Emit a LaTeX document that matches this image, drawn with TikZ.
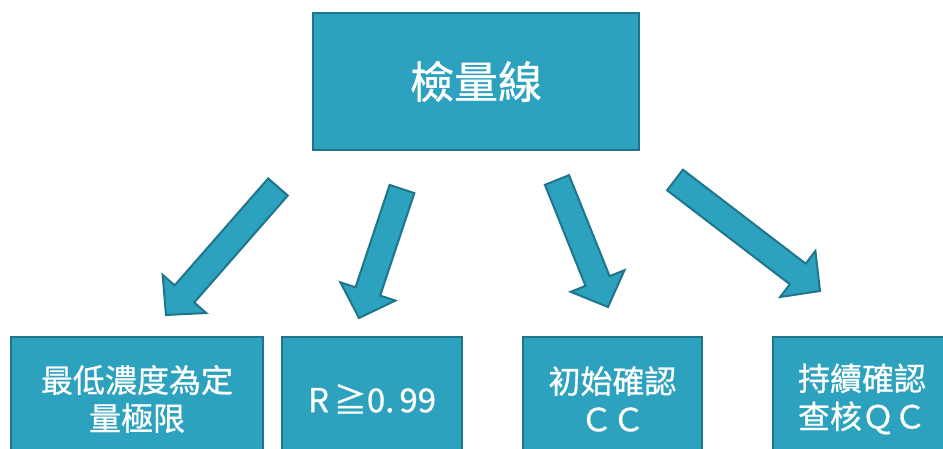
\documentclass[tikz,border=0pt]{standalone}
\usepackage{fontspec}
\newfontfamily\cjk[FakeBold=0.8]{Noto Sans CJK TC}
\usetikzlibrary{calc}
\definecolor{boxfill}{RGB}{44,162,190}
\definecolor{boxline}{RGB}{31,118,140}
\tikzset{
  box/.style={draw=boxline, line width=2.4pt, fill=boxfill, text=white, align=center, inner sep=0pt, font=\cjk\fontsize{32}{38}\selectfont},
  topbox/.style={box, minimum width=326pt, minimum height=137pt, font=\cjk\fontsize{44}{50}\selectfont},
  lowbox/.style={box, minimum height=124pt},
  blockarrow/.style={draw=boxline, line width=2pt, fill=boxfill, line join=miter}
}
\newcommand\blockarr[2]{%
  \draw[blockarrow] ($(#1)!13pt!90:(#2)$) -- ($($(#2)!28pt!(#1)$)!13pt!-90:(#1)$)
    -- ($($(#2)!28pt!(#1)$)!29pt!-90:(#1)$) -- (#2)
    -- ($($(#2)!28pt!(#1)$)!29pt!90:(#1)$) -- ($($(#2)!28pt!(#1)$)!13pt!90:(#1)$)
    -- ($(#1)!13pt!-90:(#2)$) -- cycle;}
\begin{document}
\begin{tikzpicture}[x=1pt, y=-1pt]
\useasboundingbox (0,0) rectangle (943,449);
\clip (0,0) rectangle (943,449);
\fill[white] (0,0) rectangle (943,449);
\node[topbox] (top) at (476,81.5) {\raisebox{-3pt}{檢量線}};
\node[lowbox, minimum width=252pt] (b1) at (137,399) {最低濃度為定\\量極限};
\node[lowbox, minimum width=180pt] (b2) at (372,399) {\fontsize{33}{38}\selectfont R\hspace{5pt}≧0.\hspace{5pt}99};
\node[lowbox, minimum width=179pt] (b3) at (612.5,399) {初始確認\\ＣＣ};
\node[lowbox, minimum width=178pt] (b4) at (862,399) {持續確認\\查核ＱＣ};
\coordinate (t1) at (278,187); \coordinate (h1) at (166,315);
\coordinate (t2) at (402,189); \coordinate (h2) at (359,318);
\coordinate (t3) at (557,180); \coordinate (h3) at (608,307);
\coordinate (t4) at (675,180); \coordinate (h4) at (820,291);
\blockarr{t1}{h1}
\blockarr{t2}{h2}
\blockarr{t3}{h3}
\blockarr{t4}{h4}
\end{tikzpicture}
\end{document}
